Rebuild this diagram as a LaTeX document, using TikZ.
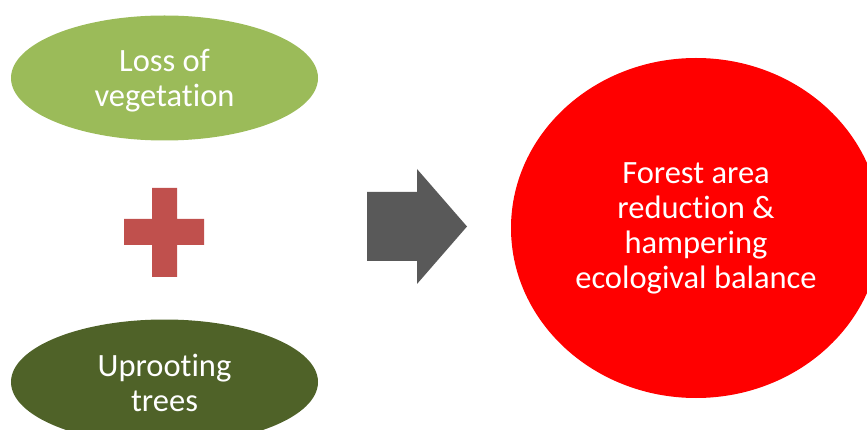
\documentclass[tikz,border=0pt]{standalone}
\usepackage{fontspec}
\setmainfont{Carlito}[Ligatures={NoCommon,NoRare,NoContextual}]
\usetikzlibrary{shapes.geometric}
\definecolor{leafgreen}{HTML}{9BBB59}
\definecolor{olivegreen}{HTML}{4F6228}
\definecolor{plusred}{HTML}{C0504D}
\definecolor{arrowgrey}{HTML}{595959}
\definecolor{brightred}{HTML}{FF0000}
\tikzset{
  blob/.style={ellipse, inner sep=0pt, text=white, align=center,
    font=\fontsize{32.5}{35}\selectfont},
  cause/.style={blob, minimum width=307pt, minimum height=125pt},
}
\begin{document}
\begin{tikzpicture}[x=1pt,y=-1pt]
  \useasboundingbox (0,0) rectangle (867,430);
  \clip (0,0) rectangle (867,430);
  % the two causes
  \node[cause, fill=leafgreen] (loss) at (164.5,78) {};
  \node[text=white, align=center, font=\fontsize{32.5}{35}\selectfont]
    (losstext) at (164.5,81) {Loss of\\vegetation};
  \node[cause, fill=olivegreen] (uproot) at (164.5,382) {};
  \node[text=white, align=center, font=\fontsize{32.5}{35}\selectfont]
    (uproottext) at (164.5,383) {Uprooting\\trees};
  % plus sign between them
  \fill[plusred] (152,188) -- (177,188) -- (177,219) -- (204,219) -- (204,245)
    -- (177,245) -- (177,277) -- (152,277) -- (152,245) -- (124,245)
    -- (124,219) -- (152,219) -- cycle;
  % block arrow towards the effect
  \fill[arrowgrey] (367,192) -- (417,192) -- (417,169) -- (467,226.5)
    -- (417,284) -- (417,261) -- (367,261) -- cycle;
  % the effect
  \node[blob, fill=brightred, minimum width=370pt, minimum height=340pt]
    (effect) at (696,228)
    {Forest area\\reduction \&\\hampering\\ecologival balance};
\end{tikzpicture}
\end{document}
